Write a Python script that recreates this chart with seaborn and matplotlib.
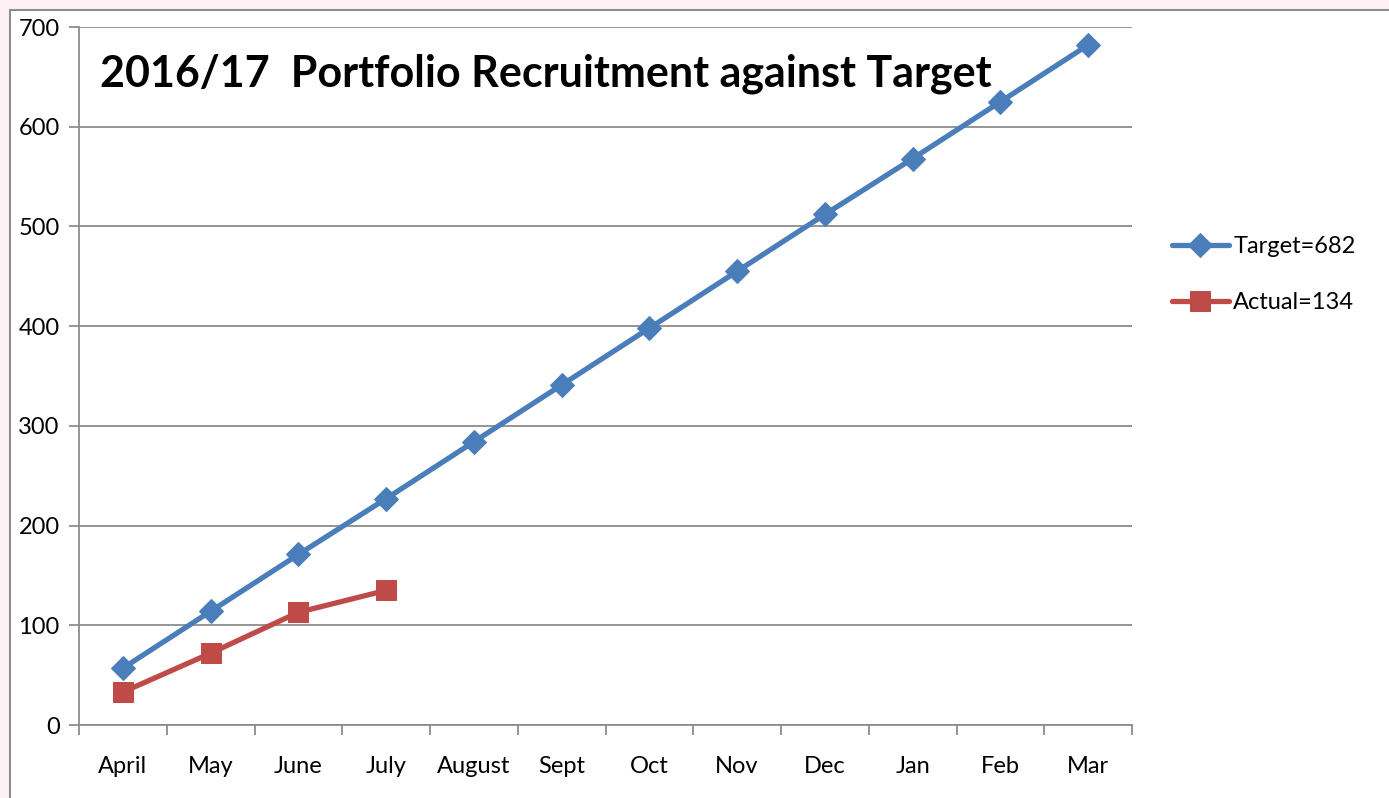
import matplotlib
matplotlib.use("Agg")
import matplotlib.pyplot as plt
import seaborn as sns
import pandas as pd
from matplotlib.patches import Rectangle
from matplotlib.ticker import FixedLocator

months = ["April", "May", "June", "July", "August", "Sept", "Oct", "Nov", "Dec", "Jan", "Feb", "Mar"]
target = [57, 114, 171, 227, 284, 341, 398, 455, 512, 568, 625, 682]
actual = [33, 72, 113, 135]
yticks = [0, 100, 200, 300, 400, 500, 600, 700]

sns.set_style("white")
plt.rcParams['font.family'] = ['Lato', 'DejaVu Sans']
plt.rcParams['text.color'] = 'black'
plt.rcParams['xtick.color'] = 'black'
plt.rcParams['ytick.color'] = 'black'

fig = plt.figure(figsize=(13.89, 7.98), dpi=100)
fig.patch.set_facecolor("#FDF0F7")
fig.add_artist(Rectangle((10/1389, -0.1), 1.2, 1 - 10/798 + 0.1, transform=fig.transFigure,
                         facecolor="white", edgecolor="#8C8C8C", linewidth=1.5, zorder=0))
ax = fig.add_axes([79/1389, 1 - 725/798, (1132 - 79)/1389, (725 - 27)/798])
ax.set_facecolor("none")

blue = "#4A7EBB"
red = "#BE4B48"
df_t = pd.DataFrame({"month": months, "value": target})
df_a = pd.DataFrame({"month": months[:len(actual)], "value": actual})
sns.lineplot(data=df_t, x="month", y="value", ax=ax, color=blue, linewidth=3.8, marker="D",
             markersize=12, markeredgecolor=blue, label="Target=682", sort=False, zorder=3)
sns.lineplot(data=df_a, x="month", y="value", ax=ax, color=red, linewidth=3.8, marker="s",
             markersize=14, markeredgecolor=red, label="Actual=134", sort=False, zorder=4)

ax.set_xlim(-0.5, len(months) - 0.5)
ax.set_ylim(0, 700)
ax.set_yticks(yticks)
ax.set_xlabel("")
ax.set_ylabel("")
ax.grid(axis="y", color="#8C8C8C", linewidth=1.3)
ax.grid(axis="x", visible=False)
ax.set_axisbelow(True)
for s in ["top", "right"]:
    ax.spines[s].set_visible(False)
for s in ["left", "bottom"]:
    ax.spines[s].set_color("#8C8C8C")
    ax.spines[s].set_linewidth(1.3)
ax.xaxis.set_minor_locator(FixedLocator([i - 0.5 for i in range(len(months) + 1)]))
ax.tick_params(axis="x", which="major", bottom=True, length=0, labelsize=17, pad=22, labelcolor="black")
ax.tick_params(axis="x", which="minor", bottom=True, length=7, width=1.3, color="#8C8C8C", direction="out")
ax.tick_params(axis="y", which="major", left=True, length=7, width=1.3, color="#8C8C8C", direction="out",
               labelsize=17, pad=7, labelcolor="black")

ax.text(0.02, 0.962, "2016/17  Portfolio Recruitment against Target", transform=ax.transAxes,
        fontsize=31, fontweight="bold", ha="left", va="top", color="black")

leg = ax.legend(loc="center left", bbox_to_anchor=(1.038, 0.645), frameon=False, fontsize=17,
                handlelength=2.4, labelspacing=1.5, handletextpad=0.2, borderpad=0, borderaxespad=0)
for t in leg.get_texts():
    t.set_color("black")

fig.savefig("out.png", dpi=100, facecolor=fig.get_facecolor())
